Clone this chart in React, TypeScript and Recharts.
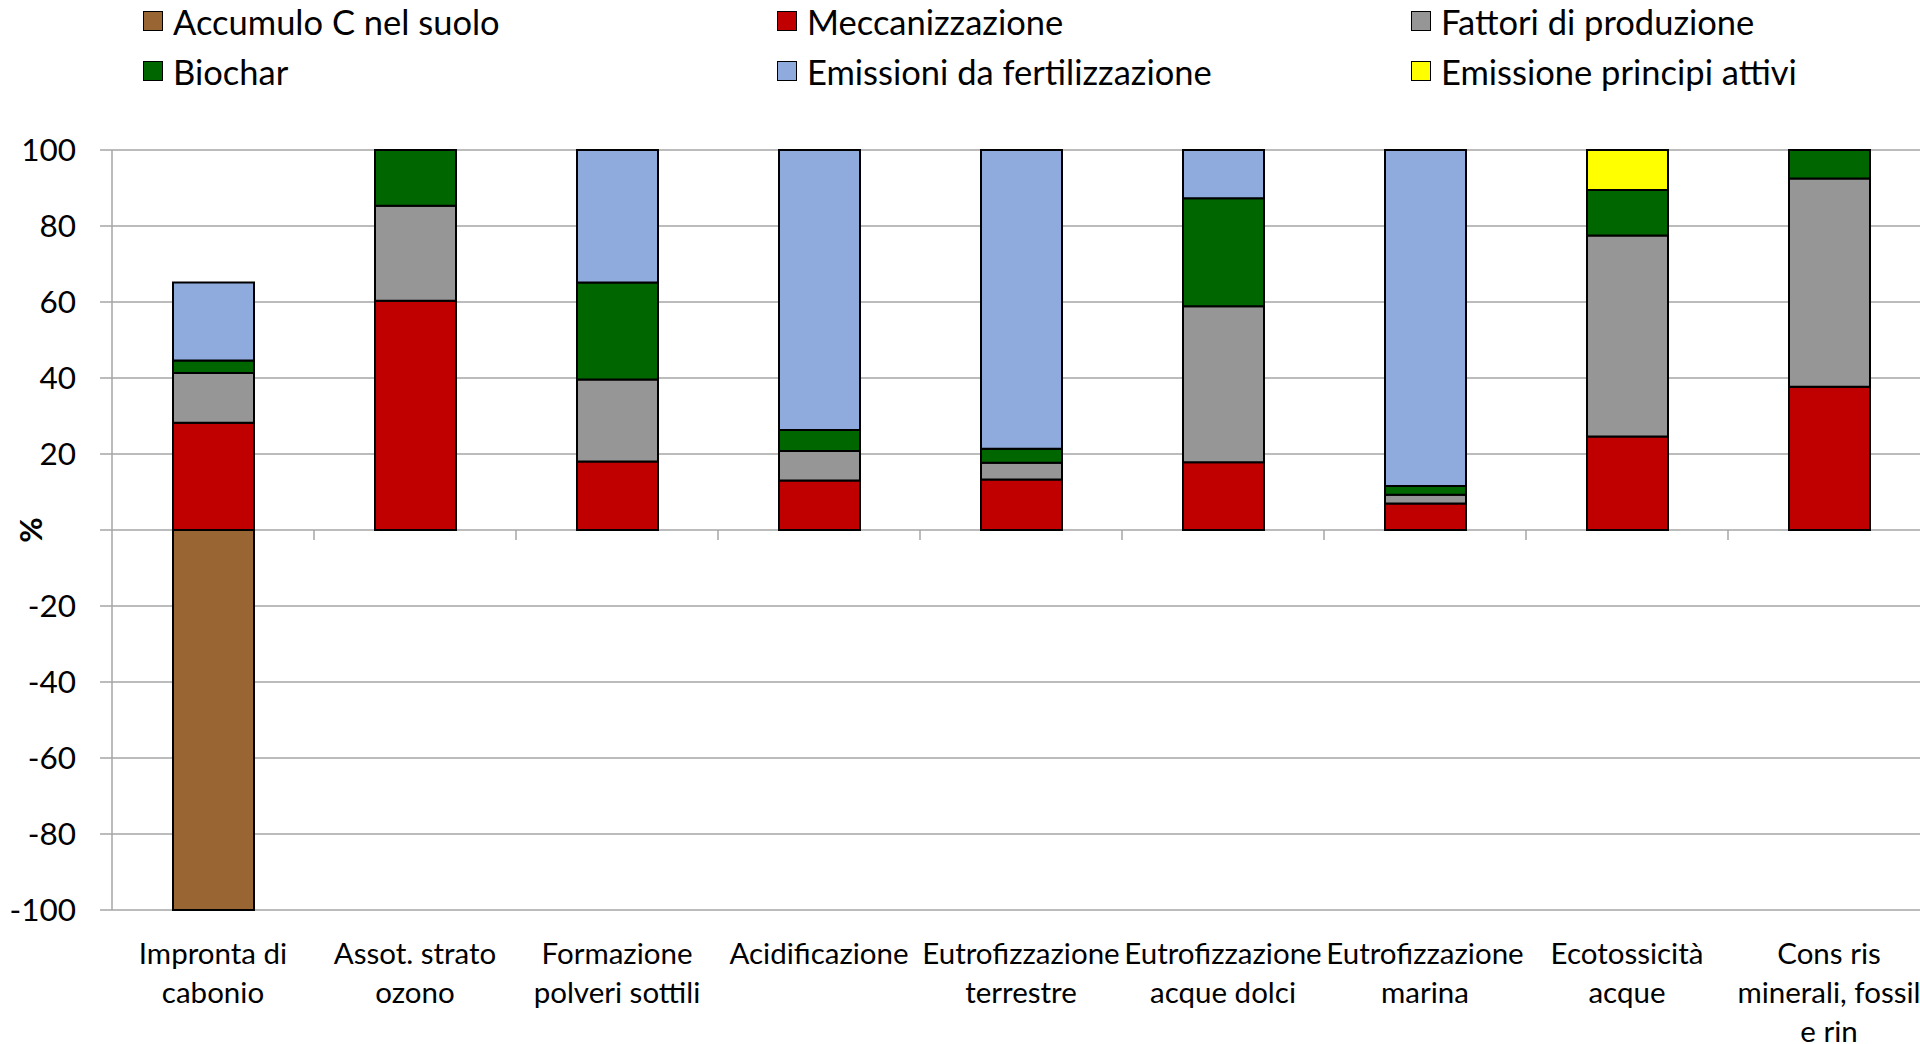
import { Bar, BarChart, CartesianGrid, Legend, ReferenceLine, XAxis, YAxis } from "recharts";

const FONT = "Lato, sans-serif";
const GRID = "#A6A6A6";

const categories = [
  "Impronta di\ncabonio",
  "Assot. strato\nozono",
  "Formazione\npolveri sottili",
  "Acidificazione",
  "Eutrofizzazione\nterrestre",
  "Eutrofizzazione\nacque dolci",
  "Eutrofizzazione\nmarina",
  "Ecotossicità\nacque",
  "Cons ris\nminerali, fossil\ne rin",
];

const accumuloC = [-100, 0, 0, 0, 0, 0, 0, 0, 0];
const meccanizzazione = [28.2, 60.3, 18.0, 13.0, 13.3, 17.8, 7.0, 24.6, 37.7];
const fattoriProduzione = [13.1, 25.0, 21.6, 7.8, 4.4, 41.1, 2.3, 52.9, 54.8];
const biochar = [3.3, 14.7, 25.5, 5.5, 3.7, 28.4, 2.3, 12.0, 7.5];
const emissioniFertilizzazione = [20.5, 0, 34.9, 73.7, 78.6, 12.7, 88.4, 0, 0];
const emissionePrincipiAttivi = [0, 0, 0, 0, 0, 0, 0, 10.5, 0];

const yTicks = [-100, -80, -60, -40, -20, 0, 20, 40, 60, 80, 100];

const series = [
  { key: "accumulo", name: "Accumulo C nel suolo", color: "#996633", values: accumuloC },
  { key: "mecc", name: "Meccanizzazione", color: "#C00000", values: meccanizzazione },
  { key: "fattori", name: "Fattori di produzione", color: "#969696", values: fattoriProduzione },
  { key: "biochar", name: "Biochar", color: "#006600", values: biochar },
  { key: "fert", name: "Emissioni da fertilizzazione", color: "#8FAADC", values: emissioniFertilizzazione },
  { key: "principi", name: "Emissione principi attivi", color: "#FFFF00", values: emissionePrincipiAttivi },
];

const data = categories.map((category, i) => {
  const row: Record<string, string | number> = { category };
  series.forEach((s) => {
    row[s.key] = s.values[i];
  });
  return row;
});

function CategoryTick({ x, y, payload }: any) {
  const lines = String(payload.value).split("\n");
  return (
    <text x={x} y={y} textAnchor="middle" fill="#000" fontSize={29.5} fontFamily={FONT}>
      {lines.map((line, i) => (
        <tspan key={i} x={x} dy={i === 0 ? 54 : 39}>
          {line}
        </tspan>
      ))}
    </text>
  );
}

function LegendContent() {
  return (
    <div
      style={{
        display: "grid",
        gridTemplateColumns: "634px 634px 634px",
        gridAutoRows: "50px",
        paddingLeft: 143,
        marginTop: -4,
        height: 104,
        boxSizing: "border-box",
        fontFamily: FONT,
        fontSize: 34.5,
        color: "#000",
      }}
    >
      {series.map((s) => (
        <div key={s.key} style={{ display: "flex", alignItems: "center", whiteSpace: "nowrap" }}>
          <span
            style={{
              display: "inline-block",
              width: 18,
              height: 18,
              background: s.color,
              border: "1.5px solid #000",
              marginRight: 10,
            }}
          />
          {s.name}
        </div>
      ))}
    </div>
  );
}

export default function App() {
  return (
    <div
      style={{
        position: "absolute",
        left: 0,
        top: 0,
        width: 1920,
        height: 1044,
        overflow: "hidden",
        background: "#fff",
      }}
    >
      <BarChart
        width={1940}
        height={1044}
        data={data}
        stackOffset="sign"
        barSize={81}
        margin={{ top: 50, right: 10, left: 0, bottom: 0 }}
      >
        <CartesianGrid stroke={GRID} strokeWidth={1.5} vertical={false} />
        <Legend
          verticalAlign="top"
          content={<LegendContent />}
          wrapperStyle={{ top: 0, left: 0, width: 1920, height: 100, overflow: "visible" }}
        />
        <XAxis
          dataKey="category"
          interval={0}
          axisLine={false}
          tickLine={false}
          tickSize={0}
          tickMargin={0}
          height={134}
          tick={<CategoryTick />}
        />
        <YAxis
          width={112}
          domain={[-100, 100]}
          ticks={yTicks}
          interval={0}
          tickSize={12}
          tickMargin={24}
          axisLine={{ stroke: GRID, strokeWidth: 1.5 }}
          tickLine={{ stroke: GRID, strokeWidth: 1.5 }}
          tick={{ fill: "#000", fontSize: 31.5, fontFamily: FONT }}
          tickFormatter={(v) => (v === 0 ? "" : String(v))}
          label={{
            value: "%",
            angle: -90,
            position: "center",
            dx: -25,
            style: { fontSize: 31, fontWeight: 700, fontFamily: FONT, fill: "#000" },
          }}
        />
        {/* small ticks below the zero line at the left edge of each category */}
        {categories.slice(1).map((c) => (
          <ReferenceLine
            key={c}
            position="start"
            segment={[
              { x: c, y: 0 },
              { x: c, y: -2.6 },
            ]}
            stroke={GRID}
            strokeWidth={1.5}
            ifOverflow="visible"
          />
        ))}
        {series.map((s) => (
          <Bar
            key={s.key}
            dataKey={s.key}
            name={s.name}
            stackId="a"
            fill={s.color}
            stroke="#000"
            strokeWidth={2}
            isAnimationActive={false}
          />
        ))}
      </BarChart>
    </div>
  );
}
